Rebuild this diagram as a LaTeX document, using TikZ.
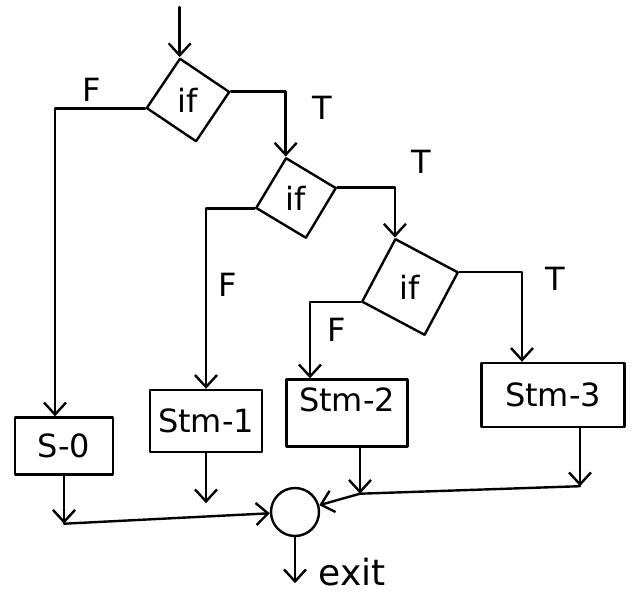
\documentclass[tikz,border=0pt]{standalone}
\usepackage{fontspec}
\setmainfont{DejaVu Sans}
\usetikzlibrary{shapes.geometric,arrows.meta}
\begin{document}
\begin{tikzpicture}[x=1pt,y=-1pt,
  line width=2.4pt, line cap=round, line join=round,
  big/.style={font=\fontsize{32}{36}\selectfont},
  decide/.style={draw, regular polygon, regular polygon sides=4, inner sep=0pt, big},
  stmbox/.style={draw, rectangle, big, inner sep=0pt},
  arr/.style={-{Straight Barb[length=12pt,width=22pt]}},
  lbl/.style={big}]
\useasboundingbox (0,0) rectangle (633,598);
% decisions
\node[decide, minimum size=84pt, shape border rotate=56] (d1) at (188,100) {if};
\node[decide, minimum size=82pt, shape border rotate=59] (d2) at (296,198) {if};
\node[decide, minimum size=100pt, shape border rotate=62] (d3) at (410,287) {if};
% statements
\node[stmbox, minimum width=98pt, minimum height=57pt] (s0) at (64,446) {S-0};
\node[stmbox, minimum width=112pt, minimum height=62pt] (s1) at (206,421) {Stm-1};
\node[stmbox, minimum width=121pt, text height=32pt, text depth=35pt] (s2) at (347,413) {Stm-2};
\node[stmbox, minimum width=143pt, minimum height=64pt] (s3) at (553,395) {Stm-3};
% merge
\node[draw, circle, minimum size=48pt, inner sep=0pt] (c) at (295,512) {};
\node[anchor=west, font=\fontsize{36}{40}\selectfont] (ex) at (314,572) {exit};
% labels
\node[lbl] (lF1) at (92,90) {F};
\node[lbl] (lT1) at (322,108) {T};
\node[lbl] (lT2) at (421,162) {T};
\node[lbl] (lF2) at (228,285) {F};
\node[lbl] (lF3) at (337,330) {F};
\node[lbl] (lT3) at (555,279) {T};
% coordinates
\coordinate (in0) at ([yshift=50pt]d1.101);
\coordinate (e0) at ([xshift=-9pt]s0.north);
\coordinate (e2) at ([xshift=-37pt]s2.north);
\coordinate (e3) at ([xshift=-31pt]s3.north);
\coordinate (j0) at ([yshift=-48pt]s0.south);
\coordinate (j1) at ([yshift=-50pt]s1.south);
\coordinate (o2) at ([xshift=13pt]s2.south);
\coordinate (m) at ([yshift=-46pt]o2);
\coordinate (o3) at ([xshift=27pt]s3.south);
\coordinate (j3) at ([yshift=-58pt]o3);
\coordinate (x0) at ([yshift=-46pt]c.south);
% connectors
\draw[arr] (in0) -- (d1.101);
\draw[arr] (d1.191) -| (e0);
\draw[arr] (d1.11) -| (d2.104);
\draw[arr] (d2.194) -| (s1.north);
\draw[arr] (d2.14) -| (d3.107);
\draw[arr] (d3.197) -| (e2);
\draw[arr] (d3.17) -| (e3);
\draw[arr] (s0.south) -- (j0);
\draw[arr] (j0) -- (c);
\draw[arr] (s1.south) -- (j1);
\draw[arr] (o2) -- (m);
\draw[arr] (o3) -- (j3);
\draw[arr] (j3) -- (m) -- (c);
\draw[arr] (c.south) -- (x0);
\end{tikzpicture}
\end{document}
